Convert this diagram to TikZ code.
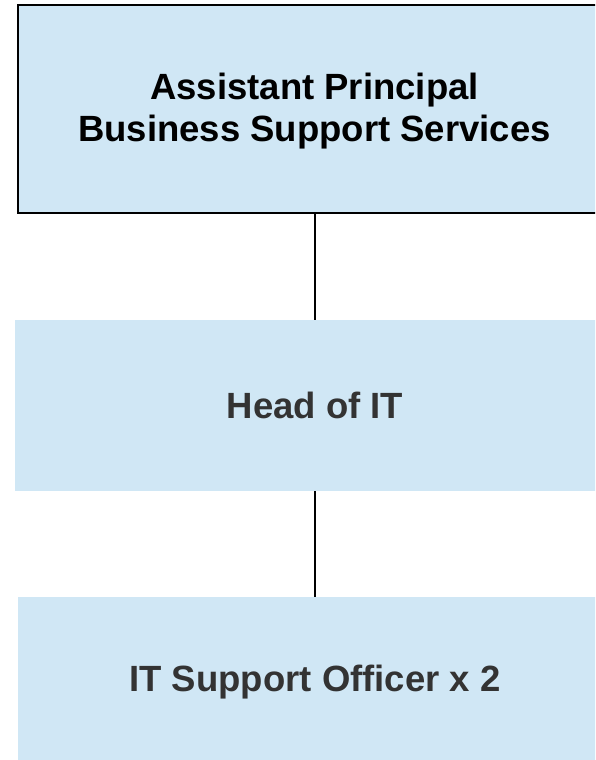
\documentclass[tikz,border=0pt]{standalone}
\usepackage{fontspec}
\setmainfont{Liberation Sans}
\definecolor{boxfill}{HTML}{D0E7F5}
\definecolor{txtgray}{HTML}{333333}
\begin{document}
\begin{tikzpicture}[x=1pt,y=1pt,
  orgbox/.style={rectangle, fill=boxfill, inner sep=0pt, align=center,
    font=\fontsize{36.5}{42}\selectfont\bfseries},
  conn/.style={draw=black, line width=1.2pt}]
\useasboundingbox (0,0) rectangle (595,-760);
\clip (0,0) rectangle (595,-760);
\node[orgbox, draw=black, line width=2pt, minimum width=593pt, minimum height=208pt]
  (ap) at (314.5,-109) {};
\node[font=\fontsize{36.5}{42}\selectfont\bfseries, align=center, text=black, inner sep=0pt]
  (aptext) at (314.5,-111.5) {Assistant Principal\\Business Support Services};
\node[orgbox, minimum width=600pt, minimum height=171pt, text=txtgray]
  (hit) at (315,-405.5) {Head of IT};
\node[orgbox, minimum width=594pt, minimum height=166pt]
  (its) at (315,-680) {};
\node[font=\fontsize{36.5}{42}\selectfont\bfseries, text=txtgray, inner sep=0pt]
  (itstext) at (315,-682.5) {IT Support Officer x 2};
\draw[conn] (ap.south -| 315,0) -- (hit.north -| 315,0);
\draw[conn] (hit.south -| 315,0) -- (its.north -| 315,0);
\end{tikzpicture}
\end{document}
